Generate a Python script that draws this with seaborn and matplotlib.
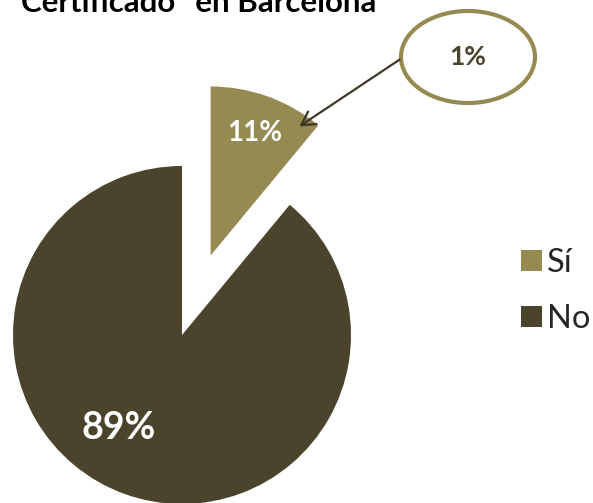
import matplotlib
matplotlib.use("Agg")
import matplotlib.pyplot as plt
from matplotlib.patches import Ellipse
import seaborn as sns

labels = ["Sí", "No"]
values = [11, 89]
colors = ["#968A53", "#4A442C"]
title_line = 'Certificado" en Barcelona'
callout = "1%"

sns.set_theme(style="white")
plt.rcParams["font.family"] = ["Lato", "DejaVu Sans"]

W, H = 593, 503
cx, cy, R = 182, 335, 169  # pie centre / radius in pixels


def px(x, y):
    return (x - cx) / R, (cy - y) / R


fig = plt.figure(figsize=(W / 100, H / 100), dpi=100)
ax = fig.add_axes([0, 0, 1, 1])

wedges, texts, autotexts = ax.pie(
    values, colors=colors, startangle=90, counterclock=False,
    explode=[0.5, 0], autopct="%d%%", pctdistance=0.77,
    wedgeprops=dict(linewidth=0),
    textprops=dict(color="white", fontweight="bold", fontsize=20),
)
autotexts[1].set_position(px(119, 428))
autotexts[1].set_fontsize(27)

x0, y1 = px(0, 0)
x1, y0 = px(W, H)
ax.set_xlim(x0, x1)
ax.set_ylim(y0, y1)
ax.set_aspect("auto")
ax.axis("off")

# callout ellipse with arrow
ex, ey = px(468, 57)
ax.add_patch(Ellipse((ex, ey), 134 / R, 92 / R, fill=False,
                     edgecolor=colors[0], linewidth=3))
ax.text(ex, ey, callout, ha="center", va="center", fontsize=19,
        fontweight="bold", color=colors[1])
ax.annotate("", xy=px(297, 128), xytext=px(402, 58),
            arrowprops=dict(arrowstyle="->,head_length=0.8,head_width=0.45",
                            color="#3E3926", lw=1.6))

ax.text(*px(199, 12), title_line, ha="center", va="baseline",
        fontsize=22.5, fontweight="bold", color="black")

fig.legend(wedges, labels, loc="center left",
           bbox_to_anchor=(492 / W, 1 - 291 / H), frameon=False,
           fontsize=23.5, handlelength=0.62, handleheight=0.62,
           handletextpad=0.15, labelspacing=0.8)

fig.savefig("out.png", dpi=100)
